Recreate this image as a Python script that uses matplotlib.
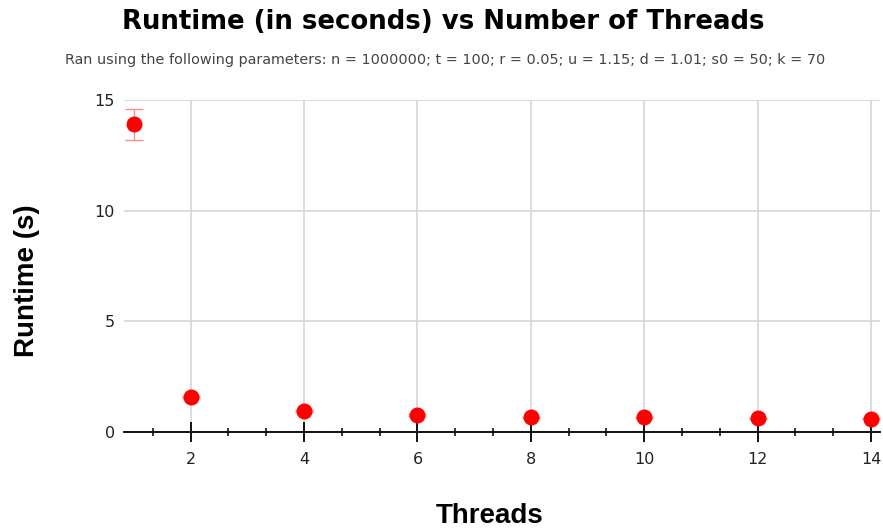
import matplotlib
matplotlib.use("Agg")
import matplotlib.pyplot as plt
from matplotlib.ticker import MultipleLocator

plt.rcParams['font.family'] = ['Liberation Sans', 'DejaVu Sans']

threads = [1, 2, 4, 6, 8, 10, 12, 14]
runtime = [13.9, 1.57, 0.95, 0.77, 0.66, 0.66, 0.62, 0.60]
runtime_err = [0.7, 0.05, 0.05, 0.04, 0.03, 0.03, 0.03, 0.03]
title = "Runtime (in seconds) vs Number of Threads"
subtitle = "Ran using the following parameters: n = 1000000; t = 100; r = 0.05; u = 1.15; d = 1.01; s0 = 50; k = 70"

W, H = 883, 531
fig = plt.figure(figsize=(W/100, H/100), dpi=100)
ax = fig.add_axes([124/W, (H-432)/H, (880-124)/W, (432-100)/H])

ax.errorbar(threads, runtime, yerr=runtime_err, fmt='o', color='#ff0000',
            markersize=10.5, ecolor='#ff8c8c', elinewidth=1.0, capsize=6.8,
            capthick=1.0, zorder=3, clip_on=False)

ax.set_xlim(0.824, 14.157)
ax.set_ylim(0, 15)
ax.xaxis.set_major_locator(MultipleLocator(2))
ax.xaxis.set_minor_locator(MultipleLocator(2/3))
ax.yaxis.set_major_locator(MultipleLocator(5))

for s in ['top', 'right', 'left']:
    ax.spines[s].set_visible(False)
ax.spines['bottom'].set_color('black')
ax.spines['bottom'].set_linewidth(1.3)
ax.spines['bottom'].set_zorder(2.5)

ax.grid(True, which='major', color='#d6d6d6', linewidth=1.2, zorder=0)
ax.set_axisbelow(True)

ax.tick_params(axis='x', which='major', direction='inout', length=14.4, width=1.3,
               labelsize=11.5, labelcolor='#222222', pad=7)
ax.tick_params(axis='x', which='minor', direction='inout', length=5.8, width=1.1)
ax.tick_params(axis='y', which='major', length=0, labelsize=11.5, labelcolor='#222222', pad=6.5)
for lab in ax.get_xticklabels() + ax.get_yticklabels():
    lab.set_family('DejaVu Sans')

fig.text(443/W, 1-22/H, title, ha='center', va='center', fontsize=18.7,
         fontweight='bold', family='DejaVu Sans')
fig.text(445/W, 1-60/H, subtitle, ha='center', va='center', fontsize=10.35,
         color='#444444', family='DejaVu Sans')
fig.text(490/W, 1-516/H, "Threads", ha='center', va='center', fontsize=20, fontweight='bold')
fig.text(27.5/W, 1-281/H, "Runtime (s)", ha='center', va='center', fontsize=20,
         fontweight='bold', rotation=90)

fig.savefig("out.png", dpi=100)
